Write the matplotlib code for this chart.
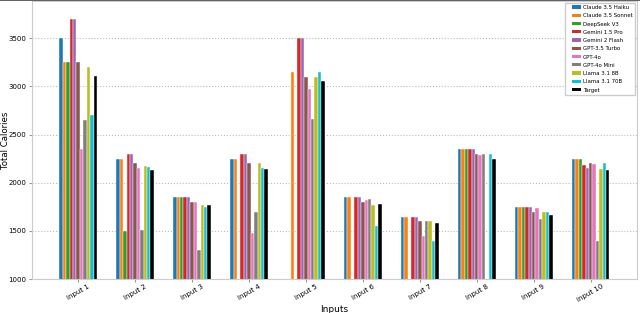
import numpy as np
import matplotlib
matplotlib.use("Agg")
import matplotlib.pyplot as plt
import matplotlib.patches as mpatches
from matplotlib.legend_handler import HandlerPatch
from matplotlib.lines import Line2D

nan = np.nan
inputs = [f"Input {i}" for i in range(1, 11)]
models = ["Claude 3.5 Haiku", "Claude 3.5 Sonnet", "DeepSeek V3", "Gemini 1.5 Pro",
          "Gemini 2 Flash", "GPT-3.5 Turbo", "GPT-4o", "GPT-4o Mini",
          "Llama 3.1 8B", "Llama 3.1 70B", "Target"]

claude_haiku  = [3500, 2250, 1850, 2250, nan, 1850, 1650, 2350, 1750, 2250]
claude_sonnet = [3250, 2250, 1850, 2250, 3150, 1850, 1650, 2350, 1750, 2250]
deepseek_v3   = [3250, 1500, 1850, nan, nan, nan, nan, 2350, 1750, 2250]
gemini_15_pro = [3700, 2300, 1850, 2300, 3500, 1850, 1650, 2350, 1750, 2180]
gemini_2_flash= [3700, 2300, 1850, 2300, 3500, 1850, 1650, 2350, 1750, 2150]
gpt35_turbo   = [3250, 2200, 1800, 2200, 3100, 1800, 1600, 2300, 1700, 2200]
gpt4o         = [2350, 2150, 1800, 1480, 2970, 1820, 1450, 2290, 1740, 2190]
gpt4o_mini    = [2650, 1510, 1300, 1700, 2665, 1835, 1600, 2300, 1625, 1400]
llama_8b      = [3200, 2175, 1770, 2200, 3100, 1770, 1600, nan, 1700, 2140]
llama_70b     = [2700, 2160, 1750, 2150, 3150, 1555, 1400, 2300, 1700, 2200]
target        = [3110, 2130, 1765, 2145, 3055, 1775, 1580, 2250, 1670, 2135]

series = [claude_haiku, claude_sonnet, deepseek_v3, gemini_15_pro, gemini_2_flash,
          gpt35_turbo, gpt4o, gpt4o_mini, llama_8b, llama_70b, target]
colors = ["#1f77b4", "#ff7f0e", "#2ca02c", "#d62728", "#9467bd", "#8c564b",
          "#e377c2", "#7f7f7f", "#bcbd22", "#17becf", "black"]

fig = plt.figure(figsize=(6.4, 3.13), dpi=100)
ax = fig.add_axes([0.05, 0.108, 0.945, 0.889])
x = np.arange(len(inputs))
w = 0.06
for i, (vals, name, c) in enumerate(zip(series, models, colors)):
    ax.bar(x + (i - 5) * w, vals, w, label=name, color=c,
           edgecolor='white', linewidth=0.3)

ax.set_ylim(1000, 3885)
ax.set_xlim(-0.81, 9.81)
ax.set_xticks(x)
ax.set_xticklabels(inputs, rotation=30, fontsize=5)
ax.tick_params(axis='x', length=2, pad=1, color='#999999')
ax.tick_params(axis='y', labelsize=5, length=2.5, pad=1.5, color='#999999')
ax.set_ylabel("Total Calories", fontsize=6.2, va='center')
ax.yaxis.set_label_coords(-0.044, 0.5)
ax.set_xlabel("Inputs", fontsize=6.5, va='center')
ax.xaxis.set_label_coords(0.5, -0.108)
ax.yaxis.grid(True, linestyle=':', color='#bbbbbb', linewidth=0.8)
ax.set_axisbelow(True)
for s in ax.spines.values():
    s.set_color('#cccccc')

handles = [mpatches.Patch(facecolor=c, label=m) for m, c in zip(models, colors)]
ax.legend(handles=handles, loc='upper right', fontsize=3.9, framealpha=1,
          handlelength=2.45, handleheight=0.55, handletextpad=0.4,
          labelspacing=0.6, borderaxespad=0.3, borderpad=0.45,
          fancybox=False, edgecolor='#cccccc',
          handler_map={mpatches.Patch: HandlerPatch(xpad=0.8)})
fig.add_artist(Line2D([0, 1], [0.999, 0.999], transform=fig.transFigure,
                      color='#444444', linewidth=1.2))
fig.savefig("out.png", dpi=100)
